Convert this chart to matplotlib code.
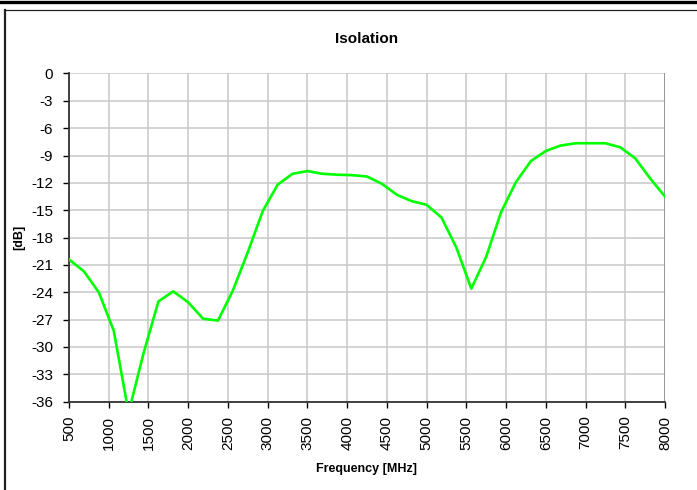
import matplotlib
matplotlib.use("Agg")
import matplotlib.pyplot as plt
from matplotlib.lines import Line2D
import numpy as np

plt.rcParams["font.family"] = ["Liberation Sans", "DejaVu Sans"]

# ─── Data ────────────────────────────────────────────────────
freq_mhz = [500, 687.5, 875, 1062.5, 1250, 1437.5, 1625, 1812.5, 2000, 2187.5,
            2375, 2562.5, 2750, 2937.5, 3125, 3312.5, 3500, 3687.5, 3875, 4062.5,
            4250, 4437.5, 4625, 4812.5, 5000, 5187.5, 5375, 5562.5, 5750, 5937.5,
            6125, 6312.5, 6500, 6687.5, 6875, 7062.5, 7250, 7437.5, 7625, 7812.5,
            8000]
isolation_db = [-20.4, -21.7, -24.0, -28.2, -37.2, -30.7, -25.0, -23.9, -25.1, -26.9,
                -27.1, -23.8, -19.6, -15.1, -12.2, -11.0, -10.7, -11.0, -11.1, -11.15,
                -11.3, -12.1, -13.3, -14.0, -14.4, -15.8, -19.1, -23.6, -20.1, -15.2,
                -11.9, -9.6, -8.5, -7.9, -7.65, -7.65, -7.65, -8.1, -9.3, -11.5,
                -13.5]
x_ticks = np.arange(500, 8001, 500)
y_ticks = np.arange(-36, 1, 3)

fig = plt.figure(figsize=(6.97, 4.90), dpi=100)
ax = fig.add_axes([69 / 697, 1 - 401.7 / 490, 596 / 697, 328.2 / 490])

ax.plot(freq_mhz, isolation_db, color="#00ff00", linewidth=1.9, clip_on=True, zorder=3)

ax.set_xlim(500, 8000)
ax.set_ylim(-36, 0)
ax.set_xticks(x_ticks)
ax.set_yticks(y_ticks)
ax.set_xticklabels([str(v) for v in x_ticks], rotation=90, fontsize=11)
ax.set_yticklabels([str(v) for v in y_ticks], fontsize=11)
ax.tick_params(axis="both", direction="out", length=4.5, width=1, color="black")
ax.tick_params(axis="x", pad=5.5)
ax.tick_params(axis="y", pad=7)
ax.grid(True, color="#c8c8c8", linewidth=1.1, zorder=0)
ax.set_axisbelow(True)

for s in ("top", "right"):
    ax.spines[s].set_visible(False)
for s in ("left", "bottom"):
    ax.spines[s].set_color("#333333")
    ax.spines[s].set_linewidth(1.3)
ax.axvline(8000, color="#909090", linewidth=1.3, zorder=1)

ax.set_title("Isolation", fontsize=11, fontweight="bold", pad=22)
ax.set_xlabel("Frequency [MHz]", fontsize=9, fontweight="bold", labelpad=10)
ax.set_ylabel("[dB]", fontsize=9, fontweight="bold", labelpad=4)

# page rule + chart frame
fig.add_artist(Line2D([0, 1], [1 - 2.5 / 490] * 2, color="black", linewidth=2.4,
                      transform=fig.transFigure))
fig.add_artist(Line2D([5 / 697, 1], [1 - 10 / 490] * 2, color="#202020", linewidth=0.9,
                      transform=fig.transFigure))
fig.add_artist(Line2D([5 / 697] * 2, [0, 1 - 10 / 490], color="#202020", linewidth=1.6,
                      transform=fig.transFigure))

fig.savefig("out.png", dpi=100)
